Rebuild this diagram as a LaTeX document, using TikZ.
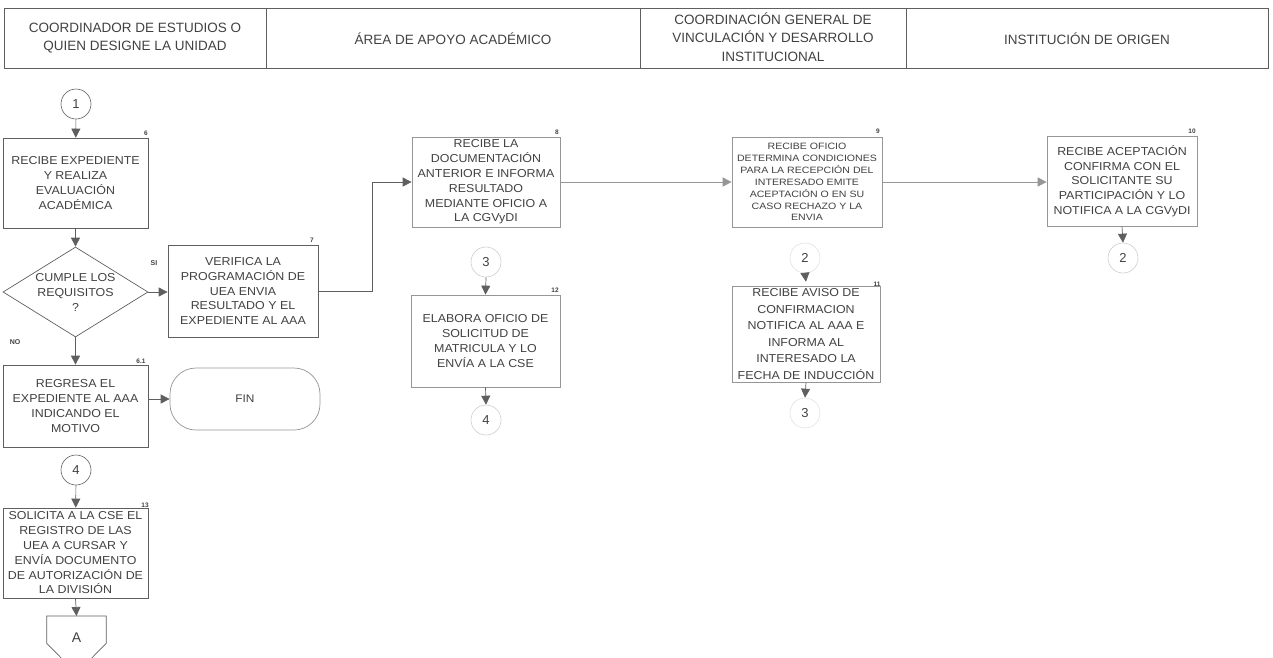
\documentclass[tikz,border=0pt]{standalone}
\usepackage{fontspec}
\setmainfont[FakeStretch=1.08]{Liberation Sans}
\newfontfamily\hdrfont{Liberation Sans}
\newfontfamily\widefont[FakeStretch=1.15]{Liberation Sans}
\usetikzlibrary{arrows.meta,shapes.geometric}
\definecolor{linec}{RGB}{95,95,95}
\definecolor{txtc}{RGB}{65,65,65}
\definecolor{faintc}{RGB}{205,205,205}
\definecolor{midc}{RGB}{150,150,150}
\tikzset{
  box/.style={draw=linec, line width=0.7pt, align=center, inner sep=0pt, text=txtc,
    font=\fontsize{11.5}{14.8}\selectfont},
  conn/.style={circle, draw=linec, line width=0.6pt, minimum size=30pt, inner sep=0pt,
    text=txtc, font=\hdrfont\fontsize{13}{15}\selectfont},
  fconn/.style={conn, draw=faintc},
  num/.style={font=\hdrfont\fontsize{6.5}{7}\selectfont\bfseries, text=txtc, inner sep=0pt},
  flow/.style={draw=linec, line width=0.7pt, -{Triangle[length=9pt,width=9pt]}},
  hdr/.style={font=\hdrfont\fontsize{13.5}{18.5}\selectfont, text=txtc, align=center},
  lbl/.style={font=\hdrfont\fontsize{7}{8}\selectfont\bfseries, text=txtc, inner sep=0pt},
}
\begin{document}
\begin{tikzpicture}[x=1pt,y=-1pt]
\useasboundingbox (0,0) rectangle (1273,657);
\clip (0,0) rectangle (1273,657);
% header
\draw[linec, line width=0.9pt] (4,8) rectangle (1268,68);
\draw[linec, line width=0.9pt] (266,8) -- (266,68) (640,8) -- (640,68) (906,8) -- (906,68);
\node[hdr] (h1) at (135,38) {COORDINADOR DE ESTUDIOS O\\QUIEN DESIGNE LA UNIDAD};
\node[hdr] (h2) at (453,39) {ÁREA DE APOYO ACADÉMICO};
\node[hdr] (h3) at (773,37) {COORDINACIÓN GENERAL DE\\VINCULACIÓN Y DESARROLLO\\INSTITUCIONAL};
\node[hdr] (h4) at (1087,39) {INSTITUCIÓN DE ORIGEN};

% column 1
\node[conn] (c1) at (76,104) {1};
\node[box, minimum width=145pt, minimum height=90pt] (b6) at (75.5,183)
  {RECIBE EXPEDIENTE\\Y REALIZA\\EVALUACIÓN\\ACADÉMICA};
\node[num] (n6) at (146,133) {6};
\node[diamond, aspect=1.6, draw=linec, line width=0.7pt, minimum width=145pt, minimum height=90pt,
  inner sep=0pt, align=center, text=txtc, font=\fontsize{11.5}{15}\selectfont] (d) at (75.5,292)
  {CUMPLE LOS\\REQUISITOS\\?};
\node[lbl] (si) at (154,263) {SI};
\node[lbl] (no) at (15,342) {NO};
\node[box, minimum width=150pt, minimum height=92pt] (b7) at (243,291)
  {VERIFICA LA\\PROGRAMACIÓN DE\\UEA ENVIA\\RESULTADO Y EL\\EXPEDIENTE AL AAA};
\node[num] (n7) at (312,240) {7};
\node[box, minimum width=145pt, minimum height=82pt] (b61) at (75.5,406)
  {REGRESA EL\\EXPEDIENTE AL AAA\\INDICANDO EL\\MOTIVO};
\node[num] (n61) at (141,361) {6.1};
\node[draw=midc, line width=0.7pt, rounded corners=26pt, minimum width=150pt, minimum height=62pt,
  text=txtc, font=\fontsize{11}{13}\selectfont] (fin) at (245,399) {FIN};
\node[conn] (c4a) at (76,470) {4};
\node[box, minimum width=145pt, minimum height=90pt] (b13) at (75.5,553)
  {SOLICITA A LA CSE EL\\REGISTRO DE LAS\\UEA A CURSAR Y\\ENVÍA DOCUMENTO\\DE AUTORIZACIÓN DE\\LA DIVISIÓN};
\node[num] (n13) at (145,505) {13};
\node[inner sep=0pt, minimum width=59pt, minimum height=57pt, anchor=north] (offA) at (76.5,616) {};
\draw[linec, line width=0.7pt] (offA.north west) -- (offA.north east) -- ([yshift=30pt]offA.south east)
  -- (offA.south) -- ([yshift=30pt]offA.south west) -- cycle;
\node[text=txtc, font=\hdrfont\fontsize{14}{16}\selectfont] (tA) at (76.5,638) {A};

% column 2
\node[box, draw=midc, minimum width=148pt, minimum height=90pt] (b8) at (486,182)
  {RECIBE LA\\DOCUMENTACIÓN\\ANTERIOR E INFORMA\\RESULTADO\\MEDIANTE OFICIO A\\LA CGVyDI};
\node[num] (n8) at (557,132) {8};
\node[fconn] (c3a) at (486,262) {3};
\node[box, draw=midc, minimum width=149pt, minimum height=92pt] (b12) at (485.5,341)
  {ELABORA OFICIO DE\\SOLICITUD DE\\MATRICULA Y LO\\ENVÍA A LA CSE};
\node[num] (n12) at (555,290) {12};
\node[fconn] (c4b) at (486,420) {4};

% column 3
\node[box, draw=midc, minimum width=150pt, minimum height=90pt,
  font=\widefont\fontsize{9.2}{11.9}\selectfont] (b9) at (807,182)
  {RECIBE OFICIO\\DETERMINA CONDICIONES\\PARA LA RECEPCIÓN DEL\\INTERESADO EMITE\\ACEPTACIÓN O EN SU\\CASO RECHAZO Y LA\\ENVIA};
\node[num] (n9) at (878,131) {9};
\node[conn, draw=faintc!60!white] (c2a) at (805,258) {2};
\node[box, draw=midc, minimum width=148pt, minimum height=96pt,
  font=\fontsize{11.5}{16.5}\selectfont] (b11) at (806,334)
  {RECIBE AVISO DE\\CONFIRMACION\\NOTIFICA AL AAA E\\INFORMA AL\\INTERESADO LA\\FECHA DE INDUCCIÓN};
\node[num] (n11) at (877,284) {11};
\node[conn, draw=faintc!60!white] (c3b) at (805,413) {3};

% column 4
\node[box, draw=midc, minimum width=150pt, minimum height=90pt] (b10) at (1122,181)
  {RECIBE ACEPTACIÓN\\CONFIRMA CON EL\\SOLICITANTE SU\\PARTICIPACIÓN Y LO\\NOTIFICA A LA CGVyDI};
\node[num] (n10) at (1192,131) {10};
\node[fconn] (c2b) at (1123,258) {2};

% connectors
\draw[flow] (c1) -- (b6);
\draw[flow] (b6) -- (d);
\draw[flow] (d.east) -- (b7.west |- d.east);
\draw[flow] (d.south) -- (b61.north);
\draw[flow] (fin.west -| b61.east) -- (fin.west);
\draw[flow] (c4a) -- (b13);
\draw[flow] (b13.south) -- (offA.north);
\draw[flow] (b7.east) -- ++(54,0) |- (b8.west);
\draw[flow, draw=midc] (b8.east) -- (b9.west |- b8.east);
\draw[flow, draw=midc] (b9.east) -- (b10.west |- b9.east);
\draw[flow] (b10.south) -- (c2b.north);
\draw[flow] (c2a.south) -- ([yshift=4pt]b11.north);
\draw[flow] (b11.south) -- (c3b.north);
\draw[flow] (c3a.south) -- (b12.north);
\draw[flow] (b12.south) -- (c4b.north);
\end{tikzpicture}
\end{document}
